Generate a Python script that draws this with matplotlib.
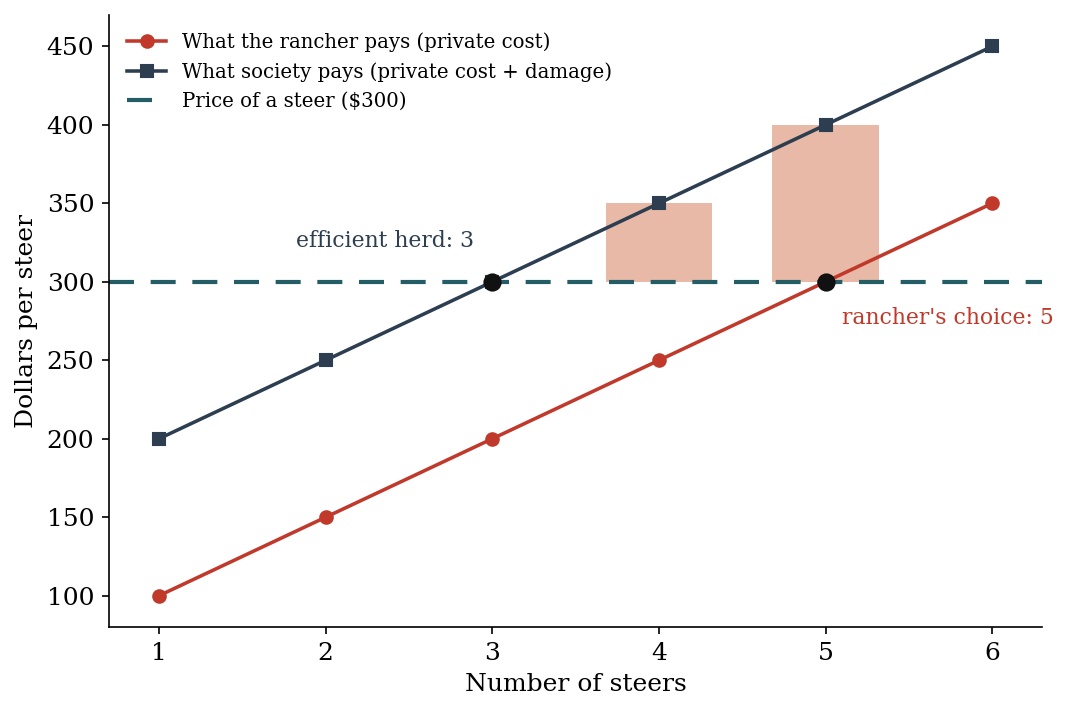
import matplotlib
matplotlib.use("Agg")
import matplotlib.pyplot as plt
import numpy as np

# herd sizes and per-steer costs
steers = [1, 2, 3, 4, 5, 6]
private_cost = [100, 150, 200, 250, 300, 350]
social_cost = [200, 250, 300, 350, 400, 450]
price = 300

# overgrazing losses between price and social cost
loss_steers = [4, 5]
loss_top = [350, 400]

efficient_n = 3
rancher_n = 5

CLR_PRIVATE = "#c0392b"
CLR_SOCIAL = "#2c3e50"
CLR_PRICE = "#245d66"
CLR_LOSS = "#e8b9a6"

plt.rcParams.update({
    "font.family": "DejaVu Serif",
    "font.size": 12,
})

fig, ax = plt.subplots(figsize=(7.12, 4.74), dpi=150)

ax.bar(loss_steers, np.array(loss_top) - price, bottom=price, width=0.64,
       color=CLR_LOSS, zorder=1)

ax.plot(steers, private_cost, "-o", color=CLR_PRIVATE, lw=1.7, ms=6,
        label="What the rancher pays (private cost)", zorder=3)
ax.plot(steers, social_cost, "-s", color=CLR_SOCIAL, lw=1.7, ms=6,
        label="What society pays (private cost + damage)", zorder=3)
ax.axhline(price, color=CLR_PRICE, lw=2, ls=(0, (6, 4)),
           label="Price of a steer ($300)", zorder=2)

ax.scatter([efficient_n, rancher_n], [price, price], s=60, color="#111111",
           zorder=4)

ax.text(1.82, 326, f"efficient herd: {efficient_n}", color=CLR_SOCIAL,
        fontsize=10.5, ha="left", va="center")
ax.text(5.1, 277, f"rancher's choice: {rancher_n}", color=CLR_PRIVATE,
        fontsize=10.5, ha="left", va="center")

ax.set_xlim(0.7, 6.3)
ax.set_ylim(80, 470)
ax.set_xticks(steers)
ax.set_xlabel("Number of steers")
ax.set_ylabel("Dollars per steer")
ax.spines["top"].set_visible(False)
ax.spines["right"].set_visible(False)

ax.legend(loc="upper left", frameon=False, fontsize=9.5)

fig.subplots_adjust(left=0.102, right=0.976, bottom=0.118, top=0.979)
fig.savefig("out.png", dpi=150, facecolor="white")
